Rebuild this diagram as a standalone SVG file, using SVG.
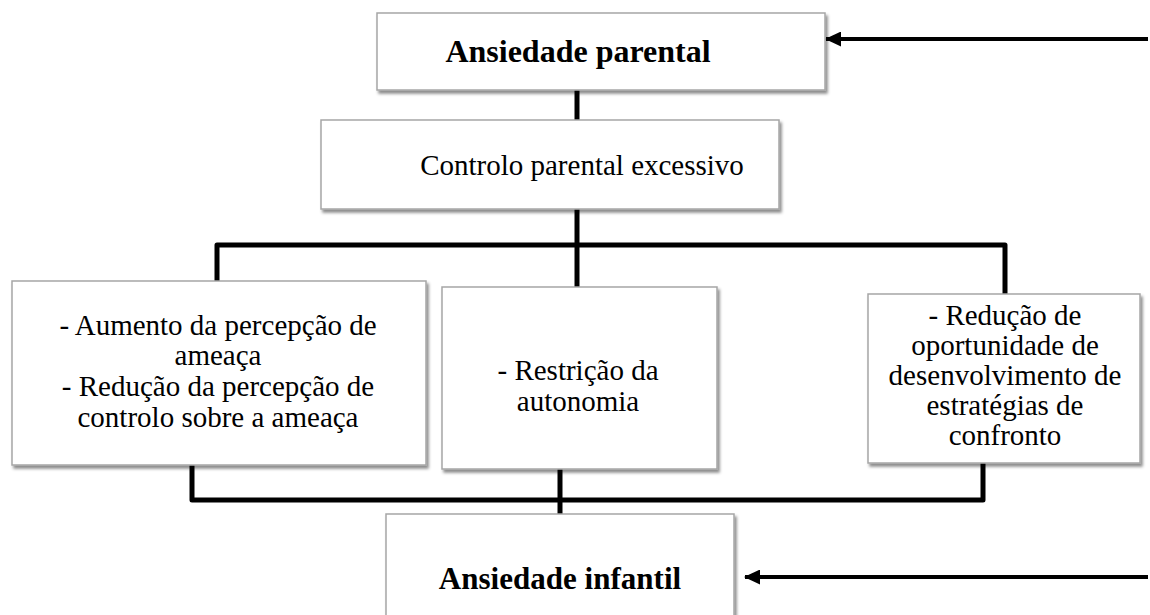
<svg xmlns="http://www.w3.org/2000/svg" width="1150" height="615" viewBox="0 0 1150 615">
<defs>
<filter id="sh" x="-5%" y="-5%" width="115%" height="120%">
<feDropShadow dx="2" dy="3" stdDeviation="1.5" flood-color="#000" flood-opacity="0.45"/>
</filter>
<marker id="ah" viewBox="0 0 16 15" refX="15" refY="7.5" markerWidth="4" markerHeight="3.75" orient="auto" markerUnits="strokeWidth">
<path d="M0,0 L16,7.5 L0,15 Z" fill="#000"/>
</marker>
</defs>
<style>
.box{fill:#fff;stroke:#a6a6a6;stroke-width:1.5;filter:url(#sh)}
.t{font-family:"Liberation Serif","Times New Roman",serif;font-size:29px;fill:#000;text-anchor:middle}
.b{font-weight:bold;font-size:32px}
.ln{fill:none;stroke:#000;stroke-width:5;stroke-linejoin:round}
.ar{fill:none;stroke:#000;stroke-width:4}
</style>
<rect width="1150" height="615" fill="#fff"/>
<g id="connectors">
<line class="ln" x1="577" y1="90" x2="577" y2="120"/>
<line class="ln" x1="577" y1="209" x2="577" y2="287"/>
<polyline class="ln" points="217,281 217,245 1005,245 1005,294"/>
<polyline class="ln" points="192,465 192,500 983,500 983,463"/>
<line class="ln" x1="560" y1="469" x2="560" y2="520"/>
<line class="ar" x1="1148" y1="39" x2="826" y2="39" marker-end="url(#ah)"/>
<line class="ar" x1="1148" y1="577" x2="745" y2="577" marker-end="url(#ah)"/>
</g>
<g id="n-parental">
<rect class="box" x="377" y="13" width="448" height="77"/>
<text class="t b" x="578" y="62">Ansiedade parental</text>
</g>
<g id="n-controlo">
<rect class="box" x="321" y="120" width="458" height="89"/>
<text class="t" x="582" y="175">Controlo parental excessivo</text>
</g>
<g id="n-ameaca">
<rect class="box" x="12" y="281" width="414" height="184"/>
<text class="t" x="218" y="335">- Aumento da percepção de</text>
<text class="t" x="218" y="365">ameaça</text>
<text class="t" x="218" y="396">- Redução da percepção de</text>
<text class="t" x="218" y="427">controlo sobre a ameaça</text>
</g>
<g id="n-autonomia">
<rect class="box" x="442" y="287" width="275" height="182"/>
<text class="t" x="578" y="380">- Restrição da</text>
<text class="t" x="578" y="411">autonomia</text>
</g>
<g id="n-confronto">
<rect class="box" x="868" y="294" width="272" height="169"/>
<text class="t" x="1005" y="325">- Redução de</text>
<text class="t" x="1005" y="355">oportunidade de</text>
<text class="t" x="1005" y="385">desenvolvimento de</text>
<text class="t" x="1005" y="415">estratégias de</text>
<text class="t" x="1005" y="445">confronto</text>
</g>
<g id="n-infantil">
<rect class="box" x="386" y="514" width="348" height="110"/>
<text class="t b" x="560" y="589" font-size="37" transform="translate(560 0) scale(0.97 1) translate(-560 0)">Ansiedade infantil</text>
</g>
</svg>
